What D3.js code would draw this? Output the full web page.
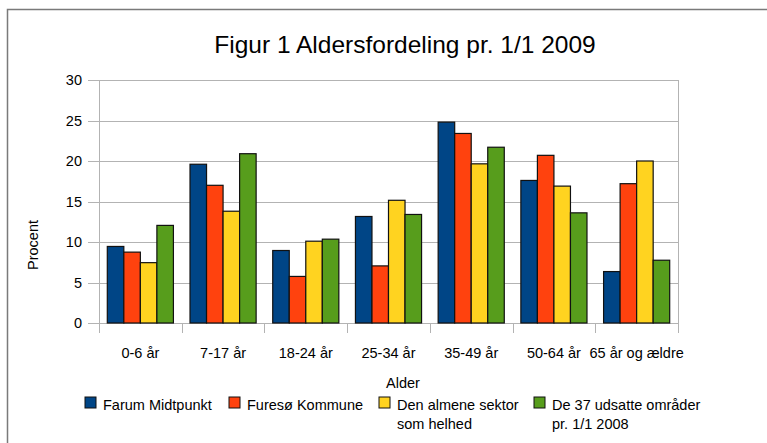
<!DOCTYPE html>
<html>
<head>
<meta charset="utf-8">
<script src="https://cdn.jsdelivr.net/npm/d3@7"></script>
<style>
  body { margin: 0; background: #fff; }
  svg { display: block; font-family: "Liberation Sans", Arial, sans-serif; }
</style>
</head>
<body>
<div id="chart"></div>
<script>
var width = 767, height = 443

var categories = ["0-6 år", "7-17 år", "18-24 år", "25-34 år", "35-49 år", "50-64 år", "65 år og ældre"]
var series = ["Farum Midtpunkt", "Furesø Kommune", "Den almene sektor som helhed", "De 37 udsatte områder pr. 1/1 2008"]
var farum = [9.45, 19.6, 8.95, 13.15, 24.8, 17.6, 6.35]
var furesoe = [8.75, 17.0, 5.75, 7.05, 23.4, 20.7, 17.2]
var almene = [7.45, 13.8, 10.1, 15.15, 19.65, 16.9, 20.0]
var udsatte = [12.05, 20.9, 10.35, 13.4, 21.7, 13.6, 7.75]
var yTicks = [0, 5, 10, 15, 20, 25, 30]
var colors = ["#004586", "#ff420e", "#ffd320", "#579d1c"]
// legend labels split over lines like the original
var legendLines = [["Farum Midtpunkt"], ["Furesø Kommune"], ["Den almene sektor", "som helhed"], ["De 37 udsatte områder", "pr. 1/1 2008"]]
var legendX = [85, 229, 379, 534]

var values = [farum, furesoe, almene, udsatte]
var data = categories.map((c, i) => ({ cat: c, vals: values.map((v, s) => ({ s: s, v: v[i] })) }))

var svg = d3.select("#chart")
    .append("svg")
    .attr("width", width)
    .attr("height", height)

// outer frame (top and left visible)
svg.append("path")
    .attr("d", "M7.5," + height + " V9.5 H" + width)
    .style("fill", "none")
    .style("stroke", "#7a7a7a")
    .style("stroke-width", 1.5)

var pLeft = 99, pRight = 678, pTop = 80, pBottom = 323

var x = d3.scaleBand().domain(categories).range([pLeft, pRight])
var x1 = d3.scaleBand().domain(d3.range(series.length)).range([8.3, x.bandwidth() - 8.3])
var y = d3.scaleLinear().domain([0, 30]).range([pBottom, pTop])

// gridlines
svg.append("g")
    .selectAll("line")
    .data(yTicks)
    .enter()
    .append("line")
        .attr("x1", pLeft - 11)
        .attr("x2", pRight)
        .attr("y1", d => Math.round(y(d)) + 0.5)
        .attr("y2", d => Math.round(y(d)) + 0.5)
        .style("stroke", "#b3b3b3")

// plot border: left axis and right edge
svg.append("line").attr("x1", pLeft + 0.5).attr("x2", pLeft + 0.5).attr("y1", pTop).attr("y2", pBottom + 10).style("stroke", "#b3b3b3")
svg.append("line").attr("x1", pRight + 0.5).attr("x2", pRight + 0.5).attr("y1", pTop).attr("y2", pBottom + 10).style("stroke", "#b3b3b3")

// category ticks
svg.append("g")
    .selectAll("line")
    .data(categories.slice(1))
    .enter()
    .append("line")
        .attr("x1", d => Math.round(x(d)) + 0.5)
        .attr("x2", d => Math.round(x(d)) + 0.5)
        .attr("y1", pBottom)
        .attr("y2", pBottom + 10)
        .style("stroke", "#b3b3b3")

// y tick labels
svg.append("g")
    .selectAll("text")
    .data(yTicks)
    .enter()
    .append("text")
        .attr("x", 82)
        .attr("y", d => y(d) + 5)
        .style("text-anchor", "end")
        .style("font-size", "14.5px")
        .text(d => d)

// bars
var group = svg.append("g")
    .selectAll("g")
    .data(data)
    .enter()
    .append("g")
    .attr("transform", d => "translate(" + x(d.cat) + ",0)")

group.selectAll("rect")
    .data(d => d.vals)
    .enter()
    .append("rect")
        .attr("x", d => x1(d.s))
        .attr("y", d => y(d.v))
        .attr("width", x1.bandwidth())
        .attr("height", d => pBottom - y(d.v))
        .style("fill", d => colors[d.s])
        .style("stroke", "#111")
        .style("stroke-width", 1.2)

// category labels
svg.append("g")
    .selectAll("text")
    .data(categories)
    .enter()
    .append("text")
        .attr("x", d => x(d) + x.bandwidth() / 2)
        .attr("y", 358)
        .style("text-anchor", "middle")
        .style("font-size", "14.5px")
        .text(d => d)

// titles
svg.append("text")
    .attr("x", 405)
    .attr("y", 53)
    .style("text-anchor", "middle")
    .style("font-size", "24.5px")
    .text("Figur 1 Aldersfordeling pr. 1/1 2009")

svg.append("text")
    .attr("x", 403)
    .attr("y", 388)
    .style("text-anchor", "middle")
    .style("font-size", "14.5px")
    .text("Alder")

svg.append("text")
    .attr("transform", "translate(38,245) rotate(-90)")
    .style("text-anchor", "middle")
    .style("font-size", "14.5px")
    .text("Procent")

// legend
var legend = svg.append("g")
    .selectAll("g")
    .data(series)
    .enter()
    .append("g")
    .attr("transform", (d, i) => "translate(" + legendX[i] + ",397)")

legend.append("rect")
    .attr("width", 11)
    .attr("height", 11)
    .style("fill", (d, i) => colors[i])
    .style("stroke", "#111")

legend.append("text")
    .attr("x", 18)
    .attr("y", 13)
    .style("font-size", "14.5px")
    .selectAll("tspan")
    .data((d, i) => legendLines[i])
    .enter()
    .append("tspan")
        .attr("x", 18)
        .attr("dy", (d, j) => j == 0 ? 0 : 19)
        .text(d => d)
</script>
</body>
</html>
